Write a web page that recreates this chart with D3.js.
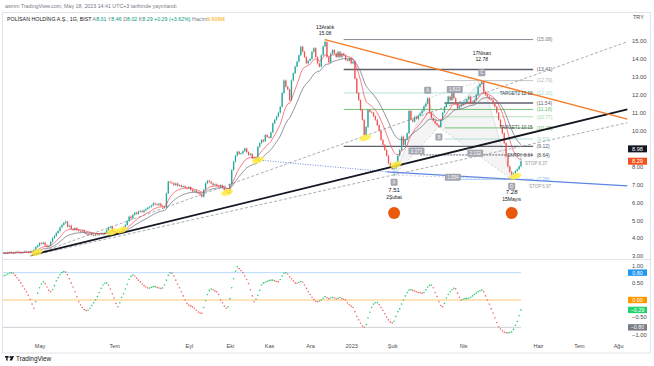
<!DOCTYPE html>
<html><head><meta charset="utf-8">
<script src="https://cdn.jsdelivr.net/npm/d3@7"></script>
<style>body{margin:0;background:#fff}svg{display:block;font-family:"Liberation Sans",Arial,sans-serif}</style>
</head><body><svg id="c" width="654" height="366"></svg>
<script>
// ---------------- DATA ----------------
const calendarStart = "2022-04-04";
const calendarEnd = "2023-08-31";
const holidays = ["2022-05-02","2022-05-03","2022-05-04","2022-05-19","2022-07-11","2022-07-12","2022-07-15","2022-08-30",
  "2023-02-08","2023-02-09","2023-02-10","2023-02-13","2023-02-14","2023-04-21","2023-05-01","2023-05-19"];

// daily closes, one per trading day from 2022-04-04 to 2023-05-18
const closes = [
 3.16,3.18,3.15,3.20,3.22,3.19,3.17,3.21,3.24,3.20,3.18,3.22,3.25,3.23,3.21,3.26,3.24,
 3.35,3.50,3.58,3.72,3.68,3.75,
 3.60,3.52,3.58,
 3.80,4.00,4.12,4.28,4.40,4.60,4.73,4.85,4.92,
 4.64,4.70,4.50,4.45,4.55,4.45,4.40,4.36,4.42,4.30,4.23,
 4.20,4.25,4.17,4.15,4.22,4.18,4.23,4.26,4.21,4.30,
 4.45,4.60,4.64,4.40,
 4.30,4.23,4.28,4.35,4.45,
 4.60,4.73,4.95,5.20,5.10,5.30,5.42,
 5.35,5.48,5.52,5.45,5.55,5.62,5.70,5.75,5.82,
 5.94,5.88,5.85,5.92,5.80,5.75,5.70,
 6.50,7.15,7.10,7.06,
 6.96,7.05,6.92,6.95,6.87,6.90,6.82,6.78,6.85,6.70,6.60,6.65,6.55,6.50,6.42,6.31,
 6.70,7.06,7.20,7.15,7.05,
 6.96,7.00,6.92,6.87,6.95,6.80,6.69,6.60,6.50,
 7.00,7.80,8.26,8.60,8.82,8.70,
 8.73,8.85,9.00,8.80,8.64,8.70,8.45,8.50,8.36,
 9.10,9.30,9.48,9.40,9.75,9.65,9.60,9.90,
 10.40,10.60,10.78,11.00,11.33,
 12.10,12.80,12.45,12.30,11.70,12.80,
 13.20,13.57,13.85,14.20,14.68,
 14.40,14.10,13.75,13.90,14.00,14.40,14.60,14.10,13.75,13.57,
 14.20,14.70,14.95,14.10,13.80,
 14.30,14.50,14.30,14.10,14.40,14.10,14.30,14.20,13.95,13.90,14.05,13.75,13.85,
 12.90,12.10,11.70,11.15,10.60,
 9.75,
 10.20,11.15,11.05,11.00,10.80,
 10.60,10.30,10.00,9.48,9.20,8.92,
 8.60,8.17,7.95,7.85,7.90,
 8.20,8.60,8.92,9.66,9.20,9.50,9.85,
 11.10,10.60,10.50,10.78,10.65,10.85,10.97,
 11.10,11.35,11.50,11.80,11.00,
 10.70,10.55,10.40,10.30,10.20,10.60,
 11.00,11.33,11.50,11.90,11.70,12.27,11.80,
 11.50,11.24,11.35,11.43,11.55,11.60,11.75,
 11.90,11.50,11.60,11.70,12.00,12.45,12.60,
 12.70,
 12.17,12.00,11.90,11.75,11.70,11.50,11.33,11.00,
 10.60,10.20,9.85,9.30,8.55,8.00,7.70,7.55,
 7.60,7.75,7.85,8.01,8.29
];
const firstOpen = 3.14;
// notable wick extremes (bar index, high, low)
const extremeIdx  = [173, 210, 257, 273, 278];
const extremeHigh = [15.08, null, 12.78, null, 8.46];
const extremeLow  = [null, 7.51, null, 7.28, 8.02];

// oscillator values (lower pane), one per bar
const oscValues = [
 0.68,0.71,0.73,0.76,0.79,0.80,0.78,0.72,0.65,0.58,0.50,0.41,0.32,0.24,0.14,0.02,-0.12,-0.24,-0.05,0.20,
 0.36,0.47,0.53,0.48,0.38,0.28,0.24,0.30,0.42,0.56,0.66,0.74,0.80,0.83,0.82,0.74,0.62,0.50,0.38,0.24,
 0.10,-0.05,-0.14,-0.22,-0.28,-0.31,-0.30,-0.24,-0.16,-0.08,0.00,0.10,0.22,0.34,0.44,0.49,0.50,0.44,0.32,0.18,
 0.06,-0.10,-0.20,-0.08,0.08,0.18,0.32,0.46,0.60,0.69,0.73,0.70,0.64,0.58,0.53,0.47,0.42,0.38,0.35,0.35,
 0.37,0.39,0.39,0.37,0.35,0.34,0.35,0.44,0.58,0.72,0.80,0.78,0.70,0.58,0.46,0.36,0.24,0.12,0.00,-0.10,
 -0.15,-0.18,-0.20,-0.24,-0.30,-0.35,-0.38,-0.39,-0.22,-0.02,0.16,0.28,0.32,0.30,0.26,0.24,0.16,0.00,-0.08,-0.18,
 -0.24,-0.20,0.04,0.36,0.62,0.84,0.97,0.92,0.86,0.80,0.70,0.60,0.48,0.30,0.12,-0.05,0.02,0.14,0.28,0.44,
 0.50,0.52,0.55,0.57,0.58,0.58,0.56,0.54,0.53,0.60,0.70,0.78,0.80,0.76,0.68,0.62,0.56,0.50,0.49,0.52,
 0.54,0.52,0.44,0.34,0.24,0.16,0.08,0.01,-0.04,-0.05,-0.03,0.00,0.05,0.10,0.07,0.04,0.06,0.08,0.06,0.03,
 0.05,0.07,0.04,0.02,0.00,-0.08,-0.14,-0.18,-0.22,-0.34,-0.48,-0.58,-0.68,-0.76,-0.80,-0.72,-0.52,-0.36,-0.22,-0.12,
 -0.08,-0.08,-0.14,-0.22,-0.30,-0.40,-0.50,-0.58,-0.64,-0.67,-0.62,-0.48,-0.34,-0.26,-0.12,0.00,0.12,0.22,0.29,0.30,
 0.28,0.26,0.24,0.22,0.21,0.20,0.22,0.30,0.38,0.43,0.44,0.36,0.22,0.10,-0.05,-0.16,-0.20,-0.10,0.06,0.16,
 0.24,0.30,0.34,0.33,0.20,0.08,0.00,0.02,0.04,0.04,0.05,0.08,0.12,0.16,0.20,0.24,0.27,0.29,0.24,0.12,
 0.00,-0.12,-0.26,-0.38,-0.52,-0.66,-0.78,-0.85,-0.90,-0.94,-0.96,-0.96,-0.95,-0.93,-0.86,-0.74,-0.63,-0.46,-0.29
];
const oscLevels = [0.8, 0, -0.8];

const priceTicks = [15,14,13,12,11,10,9,8,7,6,5,4,3];
const oscTicks = [1, 0.5, -0.5, -1];
const timeTickDates = ["2022-05-05","2022-07-01","2022-09-01","2022-10-03","2022-11-01","2022-12-01",
  "2023-01-02","2023-02-01","2023-04-03","2023-06-01","2023-07-03","2023-08-01"];
const timeTickLabels = ["May","Tem","Eyl","Eki","Kas","Ara","2023","Şub","Nis","Haz","Tem","Ağu"];

// trend lines: [startIndex, startPrice, endIndex, endPrice]
const blackTrend = [16, 3.06, 335, 11.19];
const upperFan   = [15, 3.00, 335, 14.96];
const lowerFan   = [15, 3.00, 335, 10.44];
const orangeTrend= [173, 15.08, 335, 10.64];
const blueTrend  = [206, 7.70, 335, 6.91];
const blueDotted = [137, 8.36, 206, 7.70];

// fibonacci / target levels
const fibPrices   = [15.08,13.41,12.79,12.10,11.54,11.18,10.77,10.15,9.53,9.12,8.64,7.28];
const fibStartIdx = [183,183,237,183,237,183,237,237,237,183,224,237];
const fibEndIdx   = 284.5;
const noteTexts  = ["TARGET2 12.10","TARGET1 10.15","ENTRY 8.64","STOP 8.37","STOP 6.97"];
const noteIdx    = [284.2, 284.2, 284.2, 280.2, 282.3];
const notePrices = [12.10, 10.15, 8.64, 8.18, 6.87];

// XABCD harmonic pattern
const patternNames = ["X","A","B","C","D"];
const patternIdx   = [210, 228, 234, 257, 273];
const patternPrice = [7.51, 11.80, 10.20, 12.78, 7.28];
const ratioPairs   = [[0,2],[1,3],[2,4],[0,4]];
const ratioTexts   = ["0.373","1.613","2.132","1.054"];

// highlights
const yellowIdx   = [18.6, 59, 64, 120.5, 137, 194.5, 211, 275];
const yellowPrice = [3.2, 4.35, 4.45, 6.55, 8.35, 9.6, 8.1, 7.45];
const circleIdx   = [210, 273];
const circlePrice = [5.4, 5.4];
const swingLabels = [["13Aralık","15.08"],["17Nisan","12.78"],["7.51","2Şubat"],["7.28","15Mayıs"]];
const swingIdx    = [173, 257, 210, 273];

const priceBoxValues = [8.98, 8.29];
const oscBoxValues   = [0.80, 0.00, -0.29, -0.80];

// ---------------- CHART ----------------
const svg = d3.select("#c");
const parse = d3.utcParse("%Y-%m-%d"), fmtD = d3.utcFormat("%Y-%m-%d");
const hol = new Set(holidays);
const dates = [];
for (let d = parse(calendarStart); d <= parse(calendarEnd); d = d3.utcDay.offset(d, 1)) {
  const wd = d.getUTCDay(); if (wd === 0 || wd === 6) continue;
  const s = fmtD(d); if (hol.has(s)) continue; dates.push(s);
}
const N = closes.length;
const x = d3.scaleLinear().domain([0, N - 1]).range([2.2, 521]);
const y = d3.scaleLinear().domain([3, 15]).range([256, 41]);
const yo = d3.scaleLinear().domain([-1, 1]).range([334.2, 265.8]);

const defs = svg.append("defs");
defs.append("clipPath").attr("id","pc").append("rect").attr("x",3).attr("y",13).attr("width",625).attr("height",246);
defs.append("clipPath").attr("id","oc").append("rect").attr("x",3).attr("y",260).attr("width",625).attr("height",77);

// header & frame
svg.append("text").attr("x",5).attr("y",7.5).attr("font-size",5.3).attr("fill","#787b86")
  .text("asmm TradingView.com, May 18, 2023 14:41 UTC+3 tarihinde yayınlandı");
svg.append("rect").attr("x",2.5).attr("y",12.5).attr("width",648).attr("height",340.5)
  .attr("fill","none").attr("stroke","#e0e3eb").attr("stroke-width",1);
svg.append("line").attr("x1",3).attr("x2",650).attr("y1",259.5).attr("y2",259.5).attr("stroke","#e0e3eb");

const leg = svg.append("text").attr("x",7).attr("y",21).attr("font-size",5.3);
leg.append("tspan").attr("fill","#131722").text("POLİSAN HOLDİNG A.Ş., 1G, BIST ");
[["A","8.01"],["Y","8.46"],["D","8.02"],["K","8.29"]].forEach(p=>{
  leg.append("tspan").attr("fill","#787b86").text(" "+p[0]);
  leg.append("tspan").attr("fill","#089981").text(p[1]);
});
leg.append("tspan").attr("fill","#089981").text(" +0.29 (+3.62%)");
leg.append("tspan").attr("fill","#787b86").text(" Hacim");
leg.append("tspan").attr("fill","#f7a600").text("9.606M");
svg.append("text").attr("x",633).attr("y",19).attr("font-size",5.5).attr("fill","#4a4a4a").text("TRY");

// price pane
const pp = svg.append("g").attr("clip-path","url(#pc)");
const segLine = (g, s, color, w, dash) => g.append("line")
  .attr("x1",x(s[0])).attr("y1",y(s[1])).attr("x2",x(s[2])).attr("y2",y(s[3]))
  .attr("stroke",color).attr("stroke-width",w).attr("stroke-dasharray",dash||null);

// harmonic pattern shading
const pt = i => [x(patternIdx[i]), y(patternPrice[i])];
pp.append("path").attr("d", d3.line()([pt(0),pt(1),pt(2)])+"Z").attr("fill","#b2b5be").attr("fill-opacity",0.15).attr("stroke","none");
pp.append("path").attr("d", d3.line()([pt(2),pt(3),pt(4)])+"Z").attr("fill","#b2b5be").attr("fill-opacity",0.15).attr("stroke","none");
pp.append("path").attr("d", d3.line()([0,1,2,3,4].map(pt))).attr("fill","none").attr("stroke","#d1d4dc").attr("stroke-width",0.7);

// fib levels
const fibColors = ["#787b86","#5d606b","#b2b5be","#9fd8d2","#5d606b","#66bb6a","#a5d6a7","#66bb6a","#9fd8d2","#5d606b","#434651","#90bff9"];
const fibWidths = [0.9,1.5,0.8,0.8,1.5,0.9,0.8,0.9,0.8,1.1,0.8,0.8];
fibPrices.forEach((p,i)=>{
  pp.append("line").attr("x1",x(fibStartIdx[i])).attr("x2",x(fibEndIdx)).attr("y1",y(p)).attr("y2",y(p))
    .attr("stroke",fibColors[i]).attr("stroke-width",fibWidths[i]).attr("stroke-dasharray", i===10?"2,1":null);
  pp.append("text").attr("x",x(fibEndIdx)+3.5).attr("y",y(p)).attr("dy","0.35em").attr("font-size",5)
    .attr("fill",fibColors[i]).text("("+p.toFixed(2)+")");
});

// trend lines
segLine(pp, upperFan, "#9598a1", 0.8, "3,2");
segLine(pp, lowerFan, "#9598a1", 0.8, "3,2");
segLine(pp, blueDotted, "#5b7fd6", 0.9, "1,1.5");

// candles
const bars = closes.map((c,i)=>{
  const o = i ? closes[i-1] : firstOpen;
  let h = Math.max(o,c), l = Math.min(o,c);
  const k = extremeIdx.indexOf(i);
  if (k >= 0) { if (extremeHigh[k] != null) h = extremeHigh[k]; if (extremeLow[k] != null) l = extremeLow[k]; }
  return {i,o,c,h,l,up:c>=o};
});
const cg = pp.append("g");
cg.selectAll("line").data(bars).join("line")
  .attr("x1",d=>x(d.i)).attr("x2",d=>x(d.i))
  .attr("y1",d=>y(d.h)-1).attr("y2",d=>y(d.l)+1)
  .attr("stroke",d=>d.up?"#26a69a":"#ef5350").attr("stroke-width",0.5);
cg.selectAll("rect").data(bars).join("rect")
  .attr("x",d=>x(d.i)-0.65).attr("width",1.3)
  .attr("y",d=>y(Math.max(d.o,d.c))).attr("height",d=>Math.max(0.8, Math.abs(y(d.o)-y(d.c))))
  .attr("fill",d=>d.up?"#26a69a":"#ef5350");

// EMAs
function ema(arr, n){ const a=2/(n+1); const out=[]; arr.forEach((v,i)=>out.push(i?out[i-1]+a*(v-out[i-1]):v)); return out; }
const lineGen = d3.line().x((d,i)=>x(i)).y(d=>y(d));
pp.append("path").attr("d",lineGen(ema(closes,20))).attr("fill","none").attr("stroke","#787b86").attr("stroke-width",0.8);
pp.append("path").attr("d",lineGen(ema(closes,10))).attr("fill","none").attr("stroke","#f23645").attr("stroke-opacity",0.8).attr("stroke-width",0.8);

// main trend lines on top
segLine(pp, blackTrend, "#131722", 1.8);
segLine(pp, orangeTrend, "#f57c28", 1.3);
segLine(pp, blueTrend, "#5b86e5", 1.3);

// pattern dashed legs and ratio boxes
ratioPairs.forEach((pr,k)=>{
  const a=pt(pr[0]), b=pt(pr[1]);
  pp.append("line").attr("x1",a[0]).attr("y1",a[1]).attr("x2",b[0]).attr("y2",b[1])
    .attr("stroke","#b2b5be").attr("stroke-width",0.6).attr("stroke-dasharray","2,2");
  const mx=(a[0]+b[0])/2, my=(a[1]+b[1])/2;
  pp.append("rect").attr("x",mx-8).attr("y",my-3.5).attr("width",16).attr("height",7).attr("rx",1).attr("fill","#a3a6af");
  pp.append("text").attr("x",mx).attr("y",my).attr("dy","0.35em").attr("text-anchor","middle").attr("font-size",4.5).attr("fill","#fff").text(ratioTexts[k]);
});
const letterOffset = [7, -8, 10, -8, 7];
patternNames.forEach((n,i)=>{
  const p=pt(i), cy=p[1]+letterOffset[i];
  pp.append("rect").attr("x",p[0]-3.5).attr("y",cy-3.5).attr("width",7).attr("height",7).attr("rx",1).attr("fill","#a3a6af");
  pp.append("text").attr("x",p[0]).attr("y",cy).attr("dy","0.35em").attr("text-anchor","middle").attr("font-size",4.5).attr("fill","#fff").text(n);
});

// notes (first three end just before the level labels)
noteTexts.forEach((t,i)=>{
  pp.append("text").attr("x",x(noteIdx[i])).attr("y",y(notePrices[i])).attr("dy","0.35em").attr("font-size",4.5)
    .attr("text-anchor", i<3 ? "end" : "start")
    .attr("fill", i>=3 ? "#9598a1" : "#434651").text(t);
});

// yellow highlights
yellowIdx.forEach((j,i)=>{
  pp.append("ellipse").attr("cx",x(j)).attr("cy",y(yellowPrice[i])).attr("rx",6).attr("ry",3)
    .attr("transform",`rotate(-18 ${x(j)} ${y(yellowPrice[i])})`)
    .attr("fill","#ffeb3b").attr("fill-opacity",0.85);
});
circleIdx.forEach((j,i)=>{
  pp.append("circle").attr("cx",x(j)).attr("cy",y(circlePrice[i])).attr("r",6).attr("fill","#e8590c");
});

// swing labels
const swingY = [[27,33],[53,59],[190,197],[192,199]];
swingLabels.forEach((ls,i)=>{
  ls.forEach((t,k)=>{
    svg.append("text").attr("x",x(swingIdx[i])).attr("y",swingY[i][k]).attr("dy","0.35em").attr("text-anchor","middle")
      .attr("font-size", k===0 && i>=2 ? 6 : 5).attr("fill","#131722").text(t);
  });
});

// price axis
const pa = svg.append("g").attr("transform","translate(631,0)")
  .call(d3.axisRight(y).tickValues(priceTicks).tickFormat(d3.format(".2f")).tickSize(0).tickPadding(1));
pa.select(".domain").remove();
pa.selectAll("text").attr("font-size",5.8).attr("fill","#4a4a4a").attr("font-family","Liberation Sans, Arial, sans-serif");
const pbColors = ["#131722","#f4511e"];
priceBoxValues.forEach((v,i)=>{
  svg.append("rect").attr("x",628).attr("y",y(v)-3.5).attr("width",19).attr("height",7).attr("fill",pbColors[i]);
  svg.append("text").attr("x",637.5).attr("y",y(v)).attr("dy","0.35em").attr("text-anchor","middle").attr("font-size",5.6).attr("fill","#fff").text(v.toFixed(2));
});

// oscillator pane
const op = svg.append("g").attr("clip-path","url(#oc)");
const levelColors = ["#a8d4f7","#ffb74d","#c3c6ce"];
oscLevels.forEach((v,i)=>{
  op.append("line").attr("x1",3).attr("x2",x(N-1)).attr("y1",yo(v)).attr("y2",yo(v)).attr("stroke",levelColors[i]).attr("stroke-width",0.8);
});
op.selectAll("circle").data(oscValues).join("circle")
  .attr("cx",(d,i)=>x(i)).attr("cy",d=>yo(d)).attr("r",0.8)
  .attr("fill",(d,i)=> (i===0 || d>=oscValues[i-1]) ? "#2ecc71" : "#f06a6a");
const oa = svg.append("g").attr("transform","translate(631,0)")
  .call(d3.axisRight(yo).tickValues(oscTicks).tickFormat(d3.format(".2f")).tickSize(0).tickPadding(1));
oa.select(".domain").remove();
oa.selectAll("text").attr("font-size",5.8).attr("fill","#4a4a4a").attr("font-family","Liberation Sans, Arial, sans-serif");
const obColors = ["#2196f3","#ff9800","#22d36b","#787b86"];
oscBoxValues.forEach((v,i)=>{
  svg.append("rect").attr("x",628).attr("y",yo(v)-3.2).attr("width",19).attr("height",6.4).attr("fill",obColors[i]);
  svg.append("text").attr("x",637.5).attr("y",yo(v)).attr("dy","0.35em").attr("text-anchor","middle").attr("font-size",5.4).attr("fill","#fff")
    .text(d3.format(".2f")(v));
});

// time axis
const ta = svg.append("g").attr("transform","translate(0,344.5)")
  .call(d3.axisBottom(x).tickValues(timeTickDates.map(s=>dates.indexOf(s))).tickFormat((d,i)=>timeTickLabels[i]).tickSize(0).tickPadding(0));
ta.select(".domain").remove();
ta.selectAll("text").attr("font-size",5.5).attr("fill","#4a4a4a").attr("font-family","Liberation Sans, Arial, sans-serif");

// footer logo
const lg = svg.append("g").attr("transform","translate(5,356)");
lg.append("rect").attr("x",0).attr("y",0).attr("width",3.6).attr("height",1.6).attr("fill","#131722");
lg.append("rect").attr("x",1.2).attr("y",0).attr("width",1.4).attr("height",4.6).attr("fill","#131722");
lg.append("circle").attr("cx",5.3).attr("cy",1).attr("r",0.9).attr("fill","#131722");
lg.append("path").attr("d","M6.6,0 L9,0 L7,4.6 L4.6,4.6 Z").attr("fill","#131722");
svg.append("text").attr("x",16).attr("y",360.5).attr("font-size",6.4).attr("fill","#131722").text("TradingView");
</script></body></html>
